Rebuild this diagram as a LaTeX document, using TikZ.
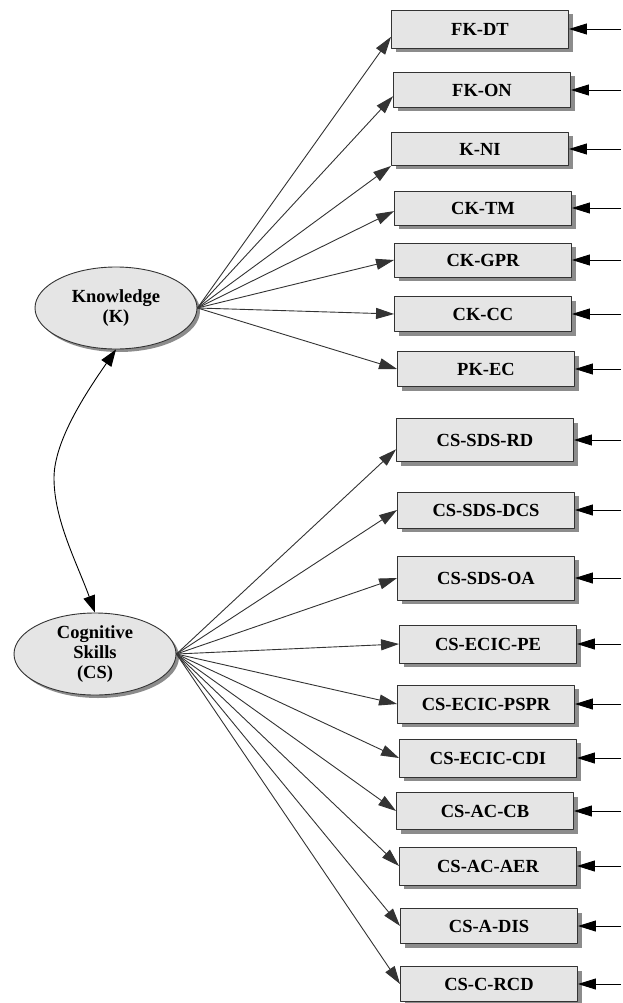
\documentclass[tikz,border=0pt]{standalone}
\usepackage{fontspec}
\setmainfont{Liberation Serif}
\usetikzlibrary{arrows.meta,shapes.geometric,shadows}
\begin{document}
\begin{tikzpicture}[line join=round,x=1pt,y=-1pt,
  font=\fontsize{18.5}{20}\selectfont\bfseries,
  every path/.style={line width=0.9pt},
  indicator/.style={draw=black!80,fill=black!10,minimum width=177pt,minimum height=36pt,inner sep=0pt,
    drop shadow={shadow xshift=4pt,shadow yshift=-4pt,fill=black!45,opacity=1}},
  construct/.style={ellipse,draw=black!80,fill=black!10,minimum width=162pt,minimum height=82pt,inner sep=0pt,align=center,
    drop shadow={shadow xshift=3pt,shadow yshift=-3pt,fill=black!45,opacity=1}},
  load/.style={draw=black!80,-{Triangle[length=18pt,width=11pt]}},
  err/.style={draw=black,-{Triangle[length=18pt,width=11pt]}},
  covar/.style={draw=black,{Triangle[length=17pt,width=12pt]}-{Triangle[length=17pt,width=12pt]}}]
  \useasboundingbox (0,0) rectangle (622,1003);
  \coordinate (rim) at (621,0);
  % latent variables
  \node[construct] (K) at (116,308) {Knowledge\\(K)};
  \node[construct] (CS) at (95,654) {Cognitive\\Skills\\(CS)};
  % indicators of K
  \node[indicator,minimum height=38pt] (dt) at (480,29) {FK-DT};
  \node[indicator,minimum height=35pt] (on) at (482,90) {FK-ON};
  \node[indicator,minimum height=33pt] (ni) at (480,149) {K-NI};
  \node[indicator,minimum height=34pt] (tm) at (483,208) {CK-TM};
  \node[indicator,minimum height=34pt] (gpr) at (483,260) {CK-GPR};
  \node[indicator,minimum height=35pt] (cc) at (483,314) {CK-CC};
  \node[indicator,minimum height=35pt] (ec) at (486,369) {PK-EC};
  % indicators of CS
  \node[indicator,minimum height=43pt] (rd) at (485,440) {CS-SDS-RD};
  \node[indicator] (dcs) at (486,510) {CS-SDS-DCS};
  \node[indicator,minimum height=44pt] (oa) at (486,578) {CS-SDS-OA};
  \node[indicator,minimum height=38pt] (pe) at (488,644) {CS-ECIC-PE};
  \node[indicator,minimum height=38pt] (pspr) at (486,704) {CS-ECIC-PSPR};
  \node[indicator,minimum height=38pt] (cdi) at (488,758) {CS-ECIC-CDI};
  \node[indicator,minimum height=37pt] (cb) at (485,811) {CS-AC-CB};
  \node[indicator,minimum height=38pt] (aer) at (488,866) {CS-AC-AER};
  \node[indicator,minimum height=35pt] (dis) at (489,926) {CS-A-DIS};
  \node[indicator,minimum height=35pt] (rcd) at (489,984) {CS-C-RCD};
  % covariance
  \draw[covar] (K.south) .. controls (88,390) and (54,440) .. (54,478)
    .. controls (54,520) and (77,563) .. (CS.north);
  % loadings
  \draw[load] (K.east) -- (dt.185);
  \draw[load] (K.east) -- (on.184);
  \draw[load] (K.east) -- (ni.south west);
  \draw[load] (K.east) -- (tm.182);
  \draw[load] (K.east) -- (gpr.west);
  \draw[load] (K.east) -- (cc.west);
  \draw[load] (K.east) -- (ec.west);
  \draw[load] (CS.east) -- (rd.186);
  \draw[load] (CS.east) -- (dcs.west);
  \draw[load] (CS.east) -- (oa.west);
  \draw[load] (CS.east) -- (pe.west);
  \draw[load] (CS.east) -- (pspr.west);
  \draw[load] (CS.east) -- (cdi.west);
  \draw[load] (CS.east) -- (cb.west);
  \draw[load] (CS.east) -- (aer.west);
  \draw[load] (CS.east) -- (dis.west);
  \draw[load] (CS.east) -- (rcd.west);
  % error terms
  \draw[err] (dt.east -| rim) -- (dt.east);
  \draw[err] (on.east -| rim) -- (on.east);
  \draw[err] (ni.east -| rim) -- (ni.east);
  \draw[err] (tm.east -| rim) -- (tm.east);
  \draw[err] (gpr.east -| rim) -- (gpr.east);
  \draw[err] (cc.east -| rim) -- (cc.east);
  \draw[err] (ec.east -| rim) -- (ec.east);
  \draw[err] (rd.east -| rim) -- (rd.east);
  \draw[err] (dcs.east -| rim) -- (dcs.east);
  \draw[err] (oa.east -| rim) -- (oa.east);
  \draw[err] (pe.east -| rim) -- (pe.east);
  \draw[err] (pspr.east -| rim) -- (pspr.east);
  \draw[err] (cdi.east -| rim) -- (cdi.east);
  \draw[err] (cb.east -| rim) -- (cb.east);
  \draw[err] (aer.east -| rim) -- (aer.east);
  \draw[err] (dis.east -| rim) -- (dis.east);
  \draw[err] (rcd.east -| rim) -- (rcd.east);
\end{tikzpicture}
\end{document}
